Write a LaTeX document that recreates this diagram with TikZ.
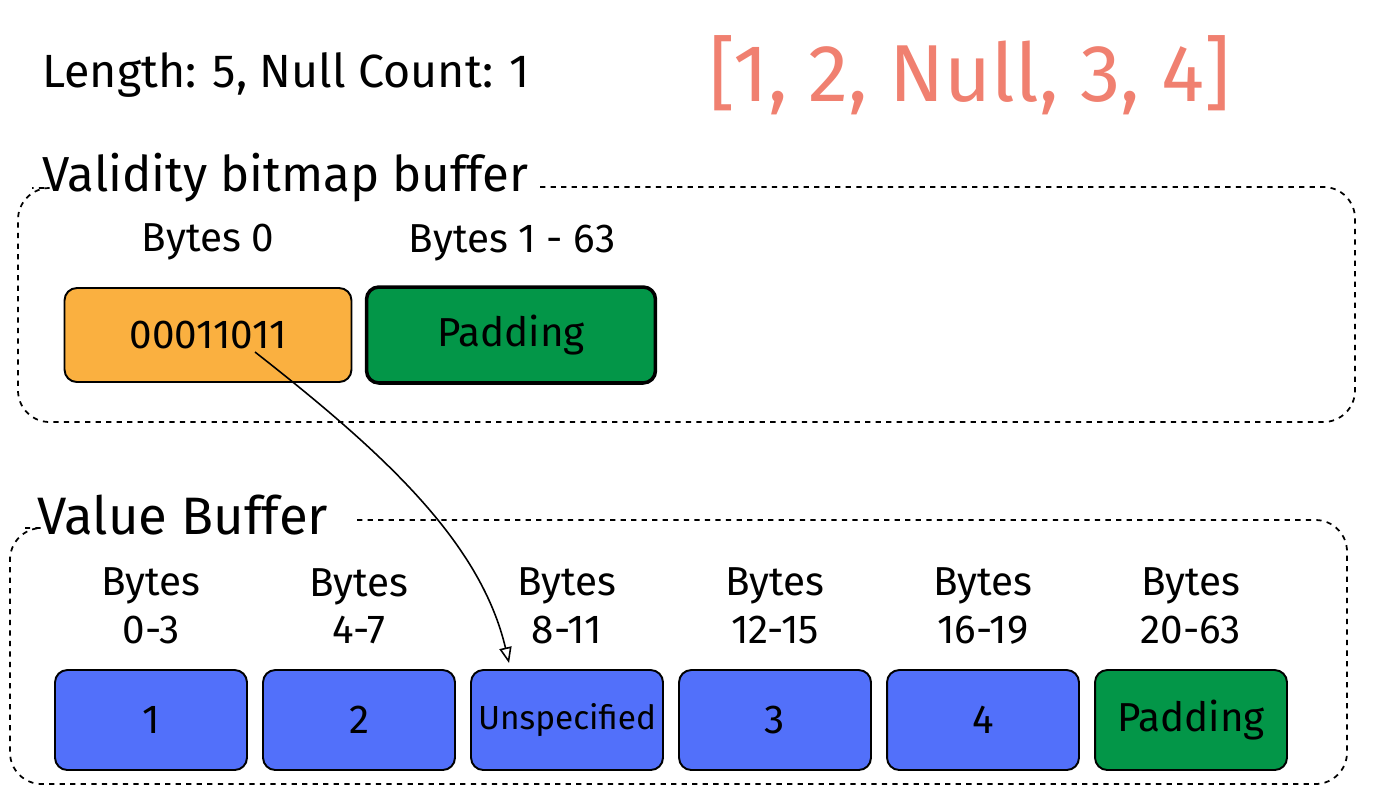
\documentclass[tikz,border=0pt]{standalone}
\usepackage{fontspec}
\setmainfont{Fira Sans}
\usetikzlibrary{arrows.meta, positioning, calc}

\definecolor{bitorange}{RGB}{250,176,64}
\definecolor{padgreen}{RGB}{3,150,72}
\definecolor{valblue}{RGB}{82,112,250}
\definecolor{salmon}{RGB}{240,128,112}

\newcommand{\smallcell}{\fontsize{19}{22}\selectfont}

\tikzset{
    cell/.style={draw=black, line width=1.1pt, rounded corners=7pt,
        minimum width=3.84cm, minimum height=2cm, inner sep=0pt,
        font=\fontsize{23}{26}\selectfont},
    bytelabel/.style={align=center, font=\fontsize{23}{27}\selectfont},
    heading/.style={anchor=west, inner sep=0pt, font=\fontsize{28}{32}\selectfont},
    frame/.style={dashed, line width=1pt, rounded corners=18pt},
}

\begin{document}
\begin{tikzpicture}[x=0.02cm, y=-0.02cm]
    \useasboundingbox (0,0) rectangle (1388,806);

    \node[heading, font=\fontsize{26.5}{30}\selectfont] (info) at (42,75) {Length: 5, Null Count: 1};
    \node[font=\fontsize{46}{50}\selectfont, text=salmon] (list) at (970,75) {[1, 2, Null, 3, 4]};

    % validity bitmap buffer
    \node[heading] (vtitle) at (42,178) {Validity bitmap buffer};
    \draw[frame] (540,187) -- (1355,187) -- (1355,422) -- (18,422) -- (18,188) -- (32,188);

    \node[cell, fill=bitorange, minimum width=5.74cm, minimum height=1.88cm] (bits) at (208,335) {00011011};
    \node[cell, fill=padgreen, line width=2pt, minimum width=5.78cm, minimum height=1.92cm] (vpad) at (511,335) {Padding};
    \node[bytelabel] (bits-lbl) at (208,242) {Bytes 0};
    \node[bytelabel] (vpad-lbl) at (512,243) {Bytes 1 - 63};

    % value buffer
    \node[heading, font=\fontsize{30}{34}\selectfont] (btitle) at (37,515) {Value Buffer};
    \draw[frame] (357,520) -- (1347,520) -- (1347,784) -- (10,784) -- (10,528) -- (25,528);

    \foreach \i/\rng/\val/\col in {0/0-3/1/valblue, 1/4-7/2/valblue,
        2/8-11/{\smallcell Unspecified}/valblue, 3/12-15/3/valblue,
        4/16-19/4/valblue, 5/20-63/Padding/padgreen} {
        \node[cell, fill=\col] (v\i) at (151+208*\i,720) {\val};
        \node[bytelabel] (v\i-lbl) at (151+208*\i,606) {Bytes\\\rng};
    }

    % null bit points at the unspecified slot
    \coordinate (arrstart) at (255,352);
    \coordinate (arrend) at ($(v2.north west)+(39,-6)$);
    \draw[-{Triangle[open, length=9pt, width=7pt]}, line width=0.9pt]
        (arrstart) .. controls (380,450) and (480,540) .. (arrend);

\end{tikzpicture}
\end{document}
